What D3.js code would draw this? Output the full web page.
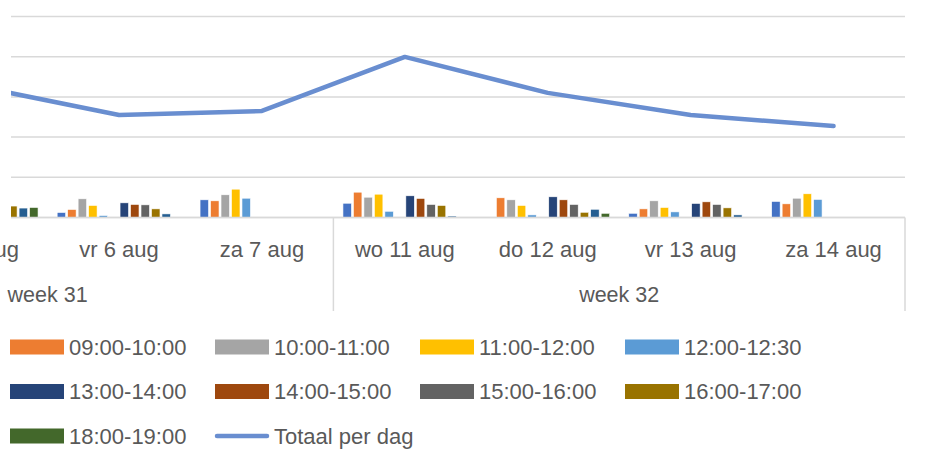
<!DOCTYPE html>
<html>
<head>
<meta charset="utf-8">
<script src="https://cdn.jsdelivr.net/npm/d3@7"></script>
<style>
  body { margin: 0; background: #fff; }
  text { font-family: "Liberation Sans", Arial, sans-serif; fill: #595959; }
</style>
</head>
<body>
<div id="chart"></div>
<script>
// data (values per day)
var days = ["wo 4 aug", "do 5 aug", "vr 6 aug", "za 7 aug", "wo 11 aug", "do 12 aug", "vr 13 aug", "za 14 aug"];
var weekOfDay = ["week 31", "week 31", "week 31", "week 31", "week 32", "week 32", "week 32", "week 32"];
var weeks = ["week 31", "week 32"];

var slots = ["08:00-09:00", "09:00-10:00", "10:00-11:00", "11:00-12:00", "12:00-12:30", "12:30-13:00",
             "13:00-14:00", "14:00-15:00", "15:00-16:00", "16:00-17:00", "17:00-18:00", "18:00-19:00"];

var s0800 = [6, 5, 2.5, 8.8, 7.1, 0, 2.1, 8];
var s0900 = [8, 7, 4, 8.3, 12.6, 9.8, 4.3, 6.8];
var s1000 = [9, 8, 9.3, 11.3, 10.1, 8.8, 8.3, 9.6];
var s1100 = [8, 8, 6, 14.1, 11.6, 6, 5, 11.8];
var s1200 = [2, 2, 1, 9.6, 3.1, 1.3, 2.8, 9];
var s1230 = [0, 0, 0, 0, 0, 0, 0, 0];
var s1300 = [9, 7, 7.3, 0, 10.8, 10.3, 7, 0];
var s1400 = [8, 7, 6.5, 0, 9.5, 8.8, 7.8, 0];
var s1500 = [7, 6, 6.3, 0, 6.5, 6.5, 6.5, 0];
var s1600 = [5, 5.7, 4.3, 0, 6, 2.6, 4.8, 0];
var s1700 = [2, 4.7, 1.8, 0, 0.7, 4.1, 1.3, 0];
var s1800 = [1, 5, 0, 0, 0, 2.1, 0, 0];

var totaalPerDag = [65, 65.4, 51, 53, 79.9, 62, 51, 45.5];
var yTicks = [0, 20, 40, 60, 80, 100];

var seriesValues = [s0800, s0900, s1000, s1100, s1200, s1230, s1300, s1400, s1500, s1600, s1700, s1800];
var colors = ["#4472C4", "#ED7D31", "#A5A5A5", "#FFC000", "#5B9BD5", "#70AD47",
              "#264478", "#9E480E", "#636363", "#997300", "#255E91", "#43682B"];
var lineColor = "#698ED0";

var width = 933, height = 466;
var plotLeft = 11, plotRight = 905, plotTop = 16.5, plotBottom = 217.5;

var svg = d3.select("#chart").append("svg")
    .attr("width", width)
    .attr("height", height);

svg.append("rect").attr("width", width).attr("height", height).attr("fill", "#fff");

// plot is cut off on the left, so the days axis starts before the picture
var x0 = d3.scaleBand()
    .domain(days)
    .range([plotRight - days.length * 142.9, plotRight])
    .paddingInner(0.119)
    .paddingOuter(0.0595);

var x1 = d3.scaleBand()
    .domain(slots)
    .range([0, x0.bandwidth()])
    .paddingInner(0.19)
    .paddingOuter(0.1);

var y = d3.scaleLinear()
    .domain([0, 100])
    .range([plotBottom, plotTop]);

svg.append("clipPath").attr("id", "plotclip")
  .append("rect")
    .attr("x", plotLeft)
    .attr("y", 0)
    .attr("width", plotRight - plotLeft)
    .attr("height", plotBottom + 2);

// gridlines
svg.append("g").selectAll("line")
    .data(yTicks)
  .enter().append("line")
    .attr("x1", plotLeft)
    .attr("x2", plotRight)
    .attr("y1", function(d) { return y(d); })
    .attr("y2", function(d) { return y(d); })
    .attr("stroke", "#d9d9d9")
    .attr("stroke-width", 1.5);

var plot = svg.append("g").attr("clip-path", "url(#plotclip)");

// bars
var dayGroups = plot.selectAll(".day")
    .data(days)
  .enter().append("g")
    .attr("class", "day")
    .attr("transform", function(d) { return "translate(" + x0(d) + ",0)"; });

dayGroups.selectAll("rect")
    .data(function(d, i) {
      return slots.map(function(s, j) { return {slot: s, value: seriesValues[j][i], color: colors[j]}; })
        .filter(function(e) { return e.value > 0; });
    })
  .enter().append("rect")
    .attr("x", function(d) { return x1(d.slot); })
    .attr("width", x1.bandwidth())
    .attr("y", function(d) { return y(d.value); })
    .attr("height", function(d) { return y(0) - y(d.value); })
    .attr("fill", function(d) { return d.color; })
    .attr("stroke", "#fff")
    .attr("stroke-width", 0.6);

// total line
var line = d3.line()
    .x(function(d, i) { return x0(days[i]) + x0.bandwidth() / 2; })
    .y(function(d) { return y(d); });

plot.append("path")
    .datum(totaalPerDag)
    .attr("d", line)
    .attr("fill", "none")
    .attr("stroke", lineColor)
    .attr("stroke-width", 4.5)
    .attr("stroke-linecap", "round")
    .attr("stroke-linejoin", "round");

// day labels
svg.append("g").selectAll("text")
    .data(days)
  .enter().append("text")
    .attr("x", function(d) { return x0(d) + x0.bandwidth() / 2; })
    .attr("y", 257)
    .attr("text-anchor", "middle")
    .style("font-size", "22px")
    .text(function(d) { return d; });

// week groups
var step = x0.step();
var weekSpans = weeks.map(function(w) {
  var ds = days.filter(function(d, i) { return weekOfDay[i] == w; });
  var a = x0(ds[0]) + x0.bandwidth() / 2 - step / 2;
  var b = x0(ds[ds.length - 1]) + x0.bandwidth() / 2 + step / 2;
  return {name: w, x0: a, x1: b};
});

var sepX = [];
weekSpans.forEach(function(w) { sepX.push(w.x0); });
sepX.push(weekSpans[weekSpans.length - 1].x1);

svg.append("g").selectAll("line")
    .data(sepX)
  .enter().append("line")
    .attr("x1", function(d) { return d; })
    .attr("x2", function(d) { return d; })
    .attr("y1", plotBottom)
    .attr("y2", 311)
    .attr("stroke", "#d9d9d9")
    .attr("stroke-width", 1.5);

svg.append("g").selectAll("text")
    .data(weekSpans)
  .enter().append("text")
    .attr("x", function(d) { return (d.x0 + d.x1) / 2; })
    .attr("y", 302)
    .attr("text-anchor", "middle")
    .style("font-size", "21.5px")
    .text(function(d) { return d.name; });

// baseline
svg.append("line")
    .attr("x1", plotLeft)
    .attr("x2", plotRight)
    .attr("y1", y(0))
    .attr("y2", y(0))
    .attr("stroke", "#d9d9d9")
    .attr("stroke-width", 1.5);

// legend, five columns, first column cut off
var legendItems = slots.map(function(s, j) { return {name: s, color: colors[j], type: "bar"}; });
legendItems.push({name: "Totaal per dag", color: lineColor, type: "line"});

var colW = 205, rowH = 44.5;
var legend = svg.append("g").selectAll(".legend")
    .data(legendItems)
  .enter().append("g")
    .attr("class", "legend")
    .attr("transform", function(d, i) {
      var col = i % 5, row = Math.floor(i / 5);
      return "translate(" + (10 - colW + col * colW) + "," + (347 + row * rowH) + ")";
    });

legend.filter(function(d) { return d.type == "bar"; }).append("rect")
    .attr("x", 0)
    .attr("y", -7.5)
    .attr("width", 54)
    .attr("height", 15)
    .attr("fill", function(d) { return d.color; });

legend.filter(function(d) { return d.type == "line"; }).append("line")
    .attr("x1", 2)
    .attr("x2", 52)
    .attr("y1", 0)
    .attr("y2", 0)
    .attr("stroke", function(d) { return d.color; })
    .attr("stroke-width", 4.5)
    .attr("stroke-linecap", "round");

legend.append("text")
    .attr("x", 59)
    .attr("y", 7.5)
    .style("font-size", "22px")
    .text(function(d) { return d.name; });
</script>
</body>
</html>
